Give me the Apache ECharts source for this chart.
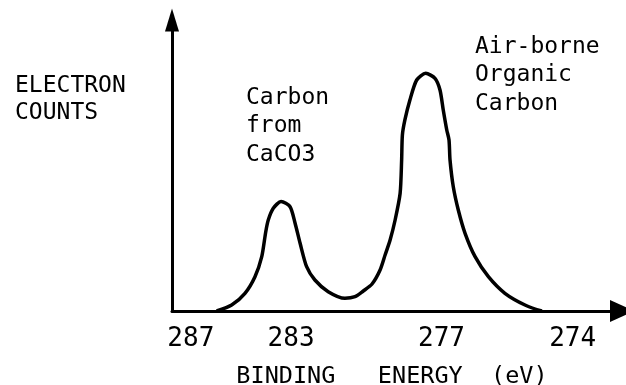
<!DOCTYPE html>
<html>
<head>
<meta charset="utf-8">
<title>C 1s binding energy</title>
<script src="https://cdn.jsdelivr.net/npm/echarts@6/dist/echarts.min.js"></script>
<style>
  html, body { margin: 0; padding: 0; background: #fff; }
  #chart { width: 626px; height: 385px; }
</style>
</head>
<body>
<div id="chart"></div>
<script>
// binding energy (eV) and counts (arbitrary units, 0-100)
var energy = [285.97, 285.37, 284.84, 284.44, 284.17, 284.01, 283.91, 283.71, 283.40, 283.04,
  282.84, 282.64, 282.38, 282.05, 281.52, 280.85, 280.45, 280.12, 279.77, 279.45,
  279.25, 279.05, 278.85, 278.65, 278.59, 278.56, 278.46, 278.26, 277.99, 277.63,
  277.26, 277.06, 276.93, 276.79, 276.70, 276.66, 276.53, 276.33, 276.06, 275.66,
  275.13, 274.47, 273.67, 273.0];
var counts = [0, 2.06, 6.08, 11.79, 18.66, 27.25, 31.27, 35.29, 37.63, 35.84,
  30.14, 23.26, 15.22, 10.65, 6.63, 4.36, 4.91, 6.87, 9.28, 14.09,
  19.24, 24.4, 31.27, 40.45, 51.89, 60.48, 65.64, 72.51, 79.38, 81.68,
  79.97, 75.95, 69.07, 62.2, 58.76, 51.89, 42.71, 34.71, 26.7, 18.66,
  11.79, 6.08, 2.06, 0];

// tick labels; the original axis is not to scale near its right end,
// so "274" sits further right than its value would put it
var tickLabels = ['287', '283', '277', '274'];
var tickAt = [287, 283, 277, 271.77];

var font = 'DejaVu Sans Mono';

var chart = echarts.init(document.getElementById('chart'));

var points = [];
for (var i = 0; i < energy.length; i++) {
  points.push([energy[i], counts[i]]);
}

chart.setOption({
  animation: false,
  grid: {
    left: 172,
    right: 4,
    top: 20,
    bottom: 74,
    outerBoundsMode: 'none'
  },
  xAxis: {
    type: 'value',
    inverse: true,
    min: 269.8,
    max: 287.75,
    name: 'BINDING   ENERGY  (eV)',
    nameLocation: 'middle',
    nameGap: 54,
    nameTextStyle: {
      fontFamily: font,
      fontSize: 23.5,
      color: '#000',
      padding: [0, 10, 0, 0]
    },
    axisLine: {
      symbol: ['none', 'triangle'],
      symbolSize: [22, 24],
      lineStyle: { color: '#000', width: 3 }
    },
    axisTick: { show: false },
    splitLine: { show: false },
    axisLabel: {
      customValues: tickAt,
      margin: 15,
      fontFamily: font,
      fontSize: 26,
      color: '#000',
      formatter: function (v) {
        var k = 0;
        for (var j = 1; j < tickAt.length; j++) {
          if (Math.abs(tickAt[j] - v) < Math.abs(tickAt[k] - v)) k = j;
        }
        return tickLabels[k];
      }
    }
  },
  yAxis: {
    type: 'value',
    min: 0,
    max: 100,
    axisLine: {
      show: true,
      symbol: ['none', 'triangle'],
      symbolSize: [14, 23],
      lineStyle: { color: '#000', width: 3 }
    },
    axisTick: { show: false },
    axisLabel: { show: false },
    splitLine: { show: false }
  },
  graphic: [
    {
      type: 'text', left: 15, top: 72.5,
      style: { text: 'ELECTRON\nCOUNTS', font: '23px ' + font, lineHeight: 27, fill: '#000' }
    },
    {
      type: 'text', left: 246, top: 83.5,
      style: { text: 'Carbon\nfrom\nCaCO3', font: '23px ' + font, lineHeight: 28.5, fill: '#000' }
    },
    {
      type: 'text', left: 475, top: 32.3,
      style: { text: 'Air-borne\nOrganic\nCarbon', font: '23px ' + font, lineHeight: 28.7, fill: '#000' }
    }
  ],
  series: [
    {
      type: 'line',
      data: points,
      smooth: 0.25,
      showSymbol: false,
      lineStyle: { color: '#000', width: 3.5 },
      z: 3
    }
  ]
});
</script>
</body>
</html>
